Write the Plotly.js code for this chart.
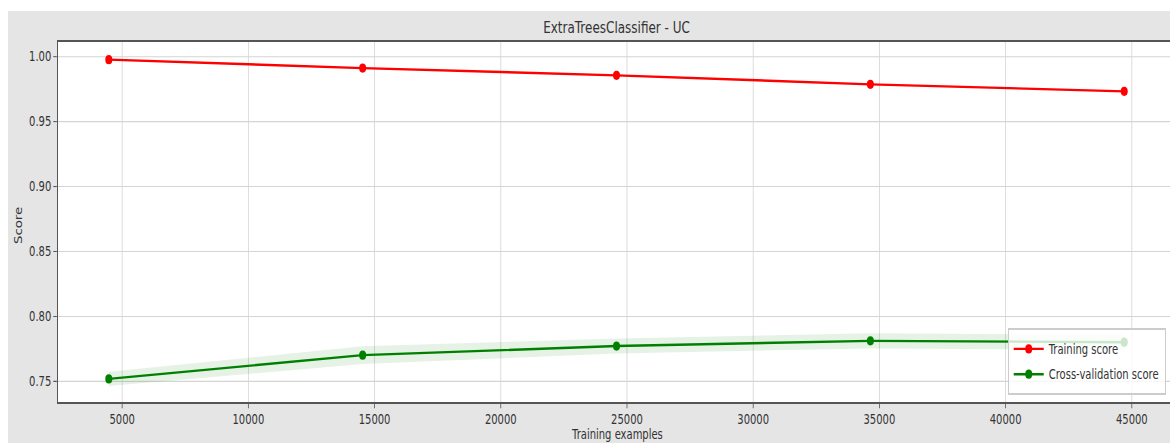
<!DOCTYPE html>
<html>
<head>
<meta charset="utf-8">
<script src="https://cdn.plot.ly/plotly-3.0.1.min.js"></script>
<style>
  html, body { margin: 0; padding: 0; width: 1170px; height: 443px; overflow: hidden; background: #ffffff; }
  /* The figure is drawn at its native size and then stretched vertically */
  #wrap { position: absolute; left: 8px; top: 11px; width: 1180px; height: 340px;
          transform: scaleY(1.33); transform-origin: 0 0; background: #e5e5e5; }
  #chart { width: 1180px; height: 340px; }
</style>
</head>
<body>
<div id="wrap"><div id="chart"></div></div>
<script>
// Learning curve: ExtraTreesClassifier on the UC data set
const trainSizes = [4470, 14527, 24585, 34642, 44700];
const trainMean  = [0.9977, 0.9912, 0.9856, 0.9787, 0.9733];
const trainStd   = [0.0004, 0.0004, 0.0004, 0.0004, 0.0004];
const cvMean     = [0.7519, 0.7702, 0.7772, 0.7812, 0.7801];
const cvStd      = [0.0055, 0.0068, 0.0058, 0.0058, 0.0058];
const xTicks     = [5000, 10000, 15000, 20000, 25000, 30000, 35000, 40000, 45000];
const yTicks     = [0.75, 0.80, 0.85, 0.90, 0.95, 1.00];

const FONT = 'DejaVu Sans, sans-serif';
const TEXT = '#333333';

const add = (m, s, k) => m.map((v, i) => v + k * s[i]);

function band(mean, std, fill) {
  return [
    { x: trainSizes, y: add(mean, std, 1), mode: 'lines', line: { width: 0 },
      showlegend: false, hoverinfo: 'skip' },
    { x: trainSizes, y: add(mean, std, -1), mode: 'lines', line: { width: 0 },
      fill: 'tonexty', fillcolor: fill, showlegend: false, hoverinfo: 'skip' }
  ];
}

const traces = [
  ...band(trainMean, trainStd, 'rgba(255,0,0,0.1)'),
  ...band(cvMean, cvStd, 'rgba(0,128,0,0.1)'),
  { x: trainSizes, y: trainMean, name: 'Training score', mode: 'lines+markers',
    line: { color: '#ff0000', width: 1.8 }, marker: { color: '#ff0000', size: 7 } },
  { x: trainSizes, y: cvMean, name: 'Cross-validation score', mode: 'lines+markers',
    line: { color: '#008000', width: 1.8 }, marker: { color: '#008000', size: 7 } }
];

const axisCommon = {
  showgrid: true, gridcolor: '#d4d4d4', gridwidth: 0.8,
  showline: true, linecolor: '#555555', linewidth: 1.2, mirror: true,
  ticks: 'outside', ticklen: 3.5, tickwidth: 0.8, tickcolor: '#555555',
  zeroline: false, tickfont: { family: FONT, size: 10, color: TEXT },
  tickmode: 'array'
};

const layout = {
  width: 1180, height: 340,
  margin: { l: 50, r: 13, t: 22.6, b: 45.9 },
  paper_bgcolor: '#e5e5e5', plot_bgcolor: '#ffffff',
  font: { family: FONT, size: 10, color: TEXT },
  title: { text: 'ExtraTreesClassifier - UC', font: { family: FONT, size: 12, color: TEXT },
           x: 0.5, xref: 'paper', xanchor: 'center', y: 0.9635, yref: 'container', yanchor: 'middle' },
  xaxis: Object.assign({}, axisCommon, { range: [2458, 46711], tickvals: xTicks,
           ticktext: xTicks.map(v => String(v)) }),
  yaxis: Object.assign({}, axisCommon, { range: [0.7341, 1.0116], tickvals: yTicks,
           ticktext: yTicks.map(v => v.toFixed(2)) }),
  showlegend: true,
  legend: { x: 0.9917, xanchor: 'right', y: 0.02, yanchor: 'bottom', traceorder: 'normal',
            bgcolor: 'rgba(255,255,255,0.8)', bordercolor: '#cccccc', borderwidth: 1,
            font: { family: FONT, size: 10, color: TEXT }, itemwidth: 30, tracegroupgap: 0 },
  annotations: [
    { text: 'Training examples', xref: 'paper', yref: 'paper', x: 0.5, y: 0,
      xanchor: 'center', yanchor: 'top', yshift: -17, showarrow: false,
      font: { family: FONT, size: 10, color: TEXT } },
    { text: 'Score', xref: 'paper', yref: 'paper', x: -0.0358, y: 0.49,
      xanchor: 'center', yanchor: 'middle', textangle: -90, showarrow: false,
      font: { family: FONT, size: 10, color: TEXT } }
  ],
  hovermode: false
};

Plotly.newPlot('chart', traces, layout, { displayModeBar: false, staticPlot: true });
</script>
</body>
</html>
